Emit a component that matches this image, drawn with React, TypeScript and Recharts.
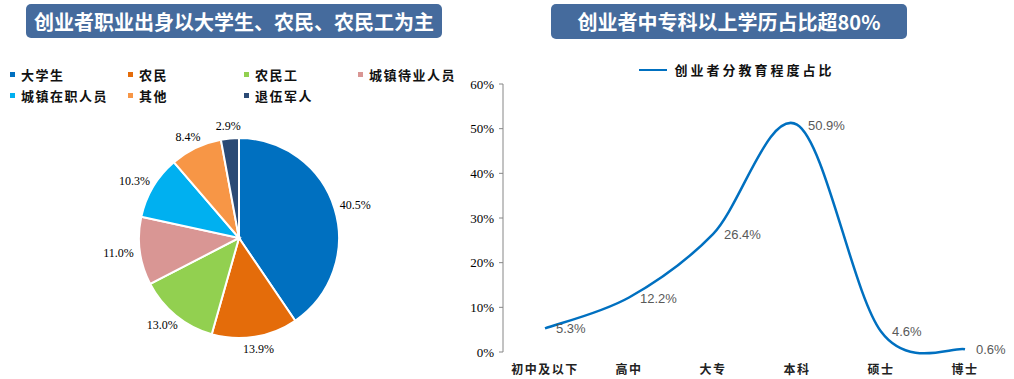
import React from 'react';
import { PieChart, Pie, Cell, LineChart, Line, XAxis, YAxis, LabelList } from 'recharts';

const pieNames = ['大学生', '农民', '农民工', '城镇待业人员', '城镇在职人员', '其他', '退伍军人'];
const pieValues = [40.5, 13.9, 13.0, 11.0, 10.3, 8.4, 2.9];
const pieColors = ['#0070c0', '#e46c0a', '#92d050', '#d99694', '#00b0f0', '#f79646', '#2b4a75'];

const eduCategories = ['初中及以下', '高中', '大专', '本科', '硕士', '博士'];
const eduValues = [5.3, 12.2, 26.4, 50.9, 4.6, 0.6];
const yTicks = [0, 10, 20, 30, 40, 50, 60];
const gridTicks = [0, 1, 2, 3, 4, 5, 6];

const leftTitle = '创业者职业出身以大学生、农民、农民工为主';
const rightTitle = '创业者中专科以上学历占比超80%';
const lineName = '创业者分教育程度占比';

const pieData = pieNames.map((name, i) => ({ name, value: pieValues[i], color: pieColors[i] }));
const lineData = eduCategories.map((name, i) => ({ name, value: eduValues[i] }));

const RAD = Math.PI / 180;
const cjk = '"Noto Sans CJK SC", sans-serif';
const serif = '"Liberation Serif", "Times New Roman", serif';

// Excel-style smoothed line (Bezier with tension 1/6)
const excelCurve = (context: any) => {
  let pts: number[][] = [];
  return {
    areaStart() {},
    areaEnd() {},
    lineStart() {
      pts = [];
    },
    lineEnd() {
      if (!pts.length) return;
      context.moveTo(pts[0][0], pts[0][1]);
      for (let i = 0; i < pts.length - 1; i++) {
        const p0 = pts[i - 1] || pts[i];
        const p1 = pts[i];
        const p2 = pts[i + 1];
        const p3 = pts[i + 2] || pts[i + 1];
        context.bezierCurveTo(
          p1[0] + (p2[0] - p0[0]) / 6,
          p1[1] + (p2[1] - p0[1]) / 6,
          p2[0] - (p3[0] - p1[0]) / 6,
          p2[1] - (p3[1] - p1[1]) / 6,
          p2[0],
          p2[1]
        );
      }
    },
    point(x: number, y: number) {
      pts.push([+x, +y]);
    },
  };
};

const titleStyle: React.CSSProperties = {
  position: 'absolute',
  background: '#456b9d',
  color: '#fff',
  fontFamily: cjk,
  fontWeight: 700,
  fontSize: 20,
  borderRadius: 5,
  display: 'flex',
  alignItems: 'center',
  justifyContent: 'center',
  whiteSpace: 'nowrap',
};

const PieLabel = (props: any) => {
  const { cx, cy, midAngle, outerRadius, value } = props;
  const text = `${value.toFixed(1)}%`;
  const halfW = text.length * 3.1;
  const halfH = 6;
  const c = Math.cos(-midAngle * RAD);
  const s = Math.sin(-midAngle * RAD);
  const r = outerRadius + 6;
  const x = cx + r * c + halfW * c;
  const y = cy + r * s + halfH * s;
  return (
    <text x={x} y={y} textAnchor="middle" dominantBaseline="central" fontFamily={serif} fontSize={12} fill="#000">
      {text}
    </text>
  );
};

const PieLegend = () => (
  <div style={{ position: 'absolute', left: 0, top: 0, width: 460 }}>
    {pieData.map((d, i) => {
      const col = i < 4 ? i : i - 4;
      const row = i < 4 ? 0 : 1;
      const lefts = [10, 128, 244, 358];
      return (
        <div
          key={d.name}
          style={{
            position: 'absolute',
            left: lefts[col],
            top: 65 + row * 21,
            display: 'flex',
            alignItems: 'center',
            whiteSpace: 'nowrap',
            fontFamily: cjk,
            fontWeight: 700,
            fontSize: 13,
            letterSpacing: 1.5,
            color: '#111',
          }}
        >
          <span style={{ display: 'inline-block', width: 5, height: 5, background: d.color, marginRight: 6 }} />
          {d.name}
        </div>
      );
    })}
  </div>
);

const LineLabel = (props: any) => {
  const { x, y, value } = props;
  return (
    <text x={x + 11} y={y + 5} textAnchor="start" fontFamily='"Liberation Sans", Arial, sans-serif' fontSize={13} fill="#595959">
      {`${value}%`}
    </text>
  );
};

export default function App() {
  return (
    <div style={{ position: 'absolute', left: 0, top: 0, width: 1014, height: 379, background: '#fff', overflow: 'hidden' }}>
      <div style={{ ...titleStyle, left: 26, top: 4, width: 416, height: 34 }}>{leftTitle}</div>
      <div style={{ ...titleStyle, left: 551, top: 4, width: 356, height: 35 }}>{rightTitle}</div>

      <div style={{ position: 'absolute', left: 0, top: 0 }}>
        <PieChart width={460} height={379} margin={{ top: 0, right: 0, bottom: 0, left: 0 }}>
          <Pie
            data={pieData}
            dataKey="value"
            nameKey="name"
            cx={239}
            cy={238}
            outerRadius={100}
            startAngle={90}
            endAngle={-270}
            stroke="#fff"
            strokeWidth={2}
            label={PieLabel}
            labelLine={false}
            isAnimationActive={false}
          >
            {pieData.map((d) => (
              <Cell key={d.name} fill={d.color} />
            ))}
          </Pie>
        </PieChart>
        <PieLegend />
      </div>

      <div
        style={{
          position: 'absolute',
          left: 460,
          top: 60,
          width: 554,
          display: 'flex',
          alignItems: 'center',
          justifyContent: 'center',
          fontFamily: cjk,
          fontWeight: 700,
          fontSize: 13,
          letterSpacing: 3,
          color: '#111',
          whiteSpace: 'nowrap',
        }}
      >
        <span style={{ display: 'inline-block', width: 28, height: 2, background: '#0070c0', marginRight: 7 }} />
        {lineName}
      </div>

      <div style={{ position: 'absolute', left: 460, top: 0 }}>
        <LineChart width={554} height={379} data={lineData} margin={{ top: 84, right: 7, bottom: 0, left: 0 }}>
          <XAxis
            xAxisId="g"
            type="number"
            domain={[0, 6]}
            ticks={gridTicks}
            tick={false}
            tickSize={5}
            height={0}
            stroke="#868686"
            allowDataOverflow
          />
          <XAxis
            xAxisId="c"
            dataKey="name"
            type="category"
            interval={0}
            axisLine={false}
            tickLine={false}
            height={27}
            tickMargin={7}
            padding={{ left: 42, right: 42 }}
            tick={{ fontFamily: cjk, fontSize: 12, fontWeight: 700, fill: '#222', letterSpacing: 1.5 }}
          />
          <YAxis
            domain={[0, 60]}
            ticks={yTicks}
            width={43}
            tickSize={4}
            tickMargin={5}
            stroke="#868686"
            tickFormatter={(v: number) => `${v}%`}
            tick={{ fontFamily: serif, fontSize: 13, fill: '#000' }}
          />
          <Line
            xAxisId="c"
            type={excelCurve as any}
            dataKey="value"
            stroke="#0070c0"
            strokeWidth={2.5}
            dot={false}
            isAnimationActive={false}
          >
            <LabelList dataKey="value" content={LineLabel} />
          </Line>
        </LineChart>
      </div>
    </div>
  );
}
